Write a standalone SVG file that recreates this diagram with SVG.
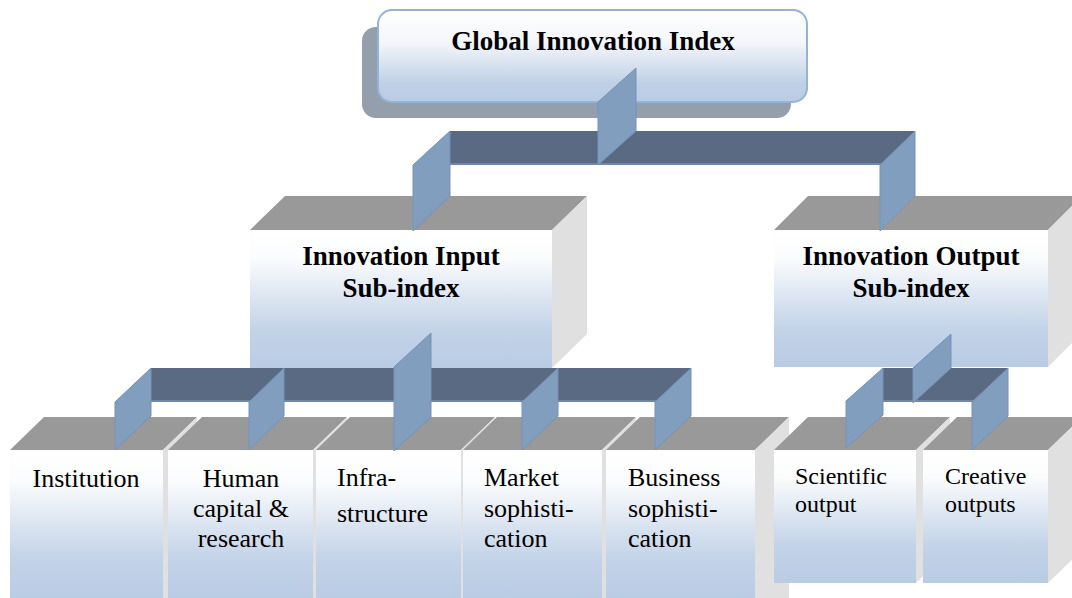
<svg xmlns="http://www.w3.org/2000/svg" width="1072" height="598" viewBox="0 0 1072 598">
  <defs>
    <linearGradient id="gFront" x1="0" y1="0" x2="0" y2="1">
      <stop offset="0" stop-color="#ffffff"/>
      <stop offset="0.2" stop-color="#fbfcfd"/>
      <stop offset="0.72" stop-color="#c3d3e8"/>
      <stop offset="1" stop-color="#b9cce4"/>
    </linearGradient>
    <linearGradient id="gTop" x1="0" y1="0" x2="0" y2="1">
      <stop offset="0" stop-color="#ffffff"/>
      <stop offset="0.35" stop-color="#f4f6fa"/>
      <stop offset="0.8" stop-color="#bfd0e6"/>
      <stop offset="1" stop-color="#b9cce4"/>
    </linearGradient>
  </defs>
  <style>
    .front { fill: url(#gFront); }
    .topf { fill: #999999; }
    .side { fill: #e0e0e0; }
    .bar { fill: #5a6a82; }
    .barEdge { stroke: #6f88aa; stroke-width: 2; fill: none; }
    .plate { fill: #819ebf; stroke: #7493b8; stroke-width: 1; }
    .title { font-family: "Liberation Serif", "Times New Roman", serif; font-weight: bold; font-size: 27px; fill: #000; text-anchor: middle; }
    .lbl { font-family: "Liberation Serif", "Times New Roman", serif; font-size: 26px; fill: #000; }
    .lblS { font-family: "Liberation Serif", "Times New Roman", serif; font-size: 24px; fill: #000; }
    .mid { text-anchor: middle; }
  </style>

  <!-- Top node -->
  <g id="node-gii">
    <rect x="362" y="27" width="429" height="91" rx="14" fill="#939fad"/>
    <rect x="378" y="10" width="429" height="92" rx="14" fill="url(#gTop)" stroke="#95b3d7" stroke-width="2"/>
    <text class="title" x="593" y="50">Global Innovation Index</text>
  </g>

  <!-- Innovation Input Sub-index -->
  <g id="node-input">
    <polygon class="topf" points="250,230 285,196 587,196 552,230"/>
    <polygon class="side" points="552,230 587,196 587,334 552,368"/>
    <rect class="front" x="250" y="230" width="302" height="138"/>
    <text class="title" x="401" y="265">Innovation Input</text>
    <text class="title" x="401" y="297">Sub-index</text>
  </g>

  <!-- Innovation Output Sub-index -->
  <g id="node-output">
    <polygon class="topf" points="774,230 808,196 1082,196 1048,230"/>
    <polygon class="side" points="1048,230 1082,196 1082,333 1048,367"/>
    <rect class="front" x="774" y="230" width="274" height="137"/>
    <text class="title" x="911" y="265">Innovation Output</text>
    <text class="title" x="911" y="297">Sub-index</text>
  </g>

  <!-- Bottom row -->
  <g id="node-institution">
    <polygon class="topf" points="10,450 44,417 197,417 163,450"/>
    <polygon class="side" points="163,450 197,417 197,600 163,600"/>
    <rect class="front" x="10" y="450" width="153" height="150"/>
    <text class="lbl mid" x="86" y="487">Institution</text>
  </g>
  <g id="node-human">
    <polygon class="topf" points="168,450 202,417 347,417 313,450"/>
    <polygon class="side" points="313,450 347,417 347,600 313,600"/>
    <rect class="front" x="168" y="450" width="145" height="150"/>
    <text class="lbl mid" x="241" y="487">Human</text>
    <text class="lbl mid" x="241" y="517">capital &amp;</text>
    <text class="lbl mid" x="241" y="547">research</text>
  </g>
  <g id="node-infra">
    <polygon class="topf" points="316,450 350,417 495,417 461,450"/>
    <polygon class="side" points="461,450 495,417 495,600 461,600"/>
    <rect class="front" x="316" y="450" width="145" height="150"/>
    <text class="lbl" x="337" y="486">Infra-</text>
    <text class="lbl" x="337" y="522">structure</text>
  </g>
  <g id="node-market">
    <polygon class="topf" points="463,450 497,417 636,417 602,450"/>
    <polygon class="side" points="602,450 636,417 636,600 602,600"/>
    <rect class="front" x="463" y="450" width="139" height="150"/>
    <text class="lbl" x="484" y="486">Market</text>
    <text class="lbl" x="484" y="517">sophisti-</text>
    <text class="lbl" x="484" y="547">cation</text>
  </g>
  <g id="node-business">
    <polygon class="topf" points="606,450 640,417 789,417 755,450"/>
    <polygon class="side" points="755,450 789,417 789,600 755,600"/>
    <rect class="front" x="606" y="450" width="149" height="150"/>
    <text class="lbl" x="628" y="486">Business</text>
    <text class="lbl" x="628" y="517">sophisti-</text>
    <text class="lbl" x="628" y="547">cation</text>
  </g>
  <g id="node-scientific">
    <polygon class="topf" points="774,450 808,417 950,417 916,450"/>
    <polygon class="side" points="916,450 950,417 950,550 916,583"/>
    <rect class="front" x="774" y="450" width="142" height="133"/>
    <text class="lblS" x="795" y="484">Scientific</text>
    <text class="lblS" x="795" y="512">output</text>
  </g>
  <g id="node-creative">
    <polygon class="topf" points="923,450 957,417 1082,417 1048,450"/>
    <polygon class="side" points="1048,450 1082,417 1082,550 1048,583"/>
    <rect class="front" x="923" y="450" width="125" height="133"/>
    <text class="lblS" x="945" y="484">Creative</text>
    <text class="lblS" x="945" y="512">outputs</text>
  </g>

  <!-- Connectors -->
  <g id="connectors">
    <rect class="bar" x="450" y="131" width="465" height="34"/>
    <line class="barEdge" x1="450" y1="164" x2="915" y2="164"/>
    <polygon class="plate" points="598,102 636,68 636,131 598,165"/>
    <polygon class="plate" points="413,165 450,131 450,196 413,231"/>
    <polygon class="plate" points="880,165 915,131 915,196 880,231"/>

    <rect class="bar" x="151" y="368" width="540" height="34"/>
    <line class="barEdge" x1="151" y1="401" x2="691" y2="401"/>
    <polygon class="plate" points="115,402 151,368 151,416 115,450"/>
    <polygon class="plate" points="249,402 284,368 284,416 249,450"/>
    <polygon class="plate" points="394,367 431,333 431,417 394,451"/>
    <polygon class="plate" points="522,402 558,368 558,416 522,450"/>
    <polygon class="plate" points="655,402 691,368 691,416 655,450"/>

    <rect class="bar" x="883" y="368" width="125" height="34"/>
    <line class="barEdge" x1="883" y1="401" x2="1008" y2="401"/>
    <polygon class="plate" points="846,401 883,368 883,415 846,448"/>
    <polygon class="plate" points="913,368 951,334 951,368 913,403"/>
    <polygon class="plate" points="972,402 1008,368 1008,416 972,450"/>
  </g>
</svg>
